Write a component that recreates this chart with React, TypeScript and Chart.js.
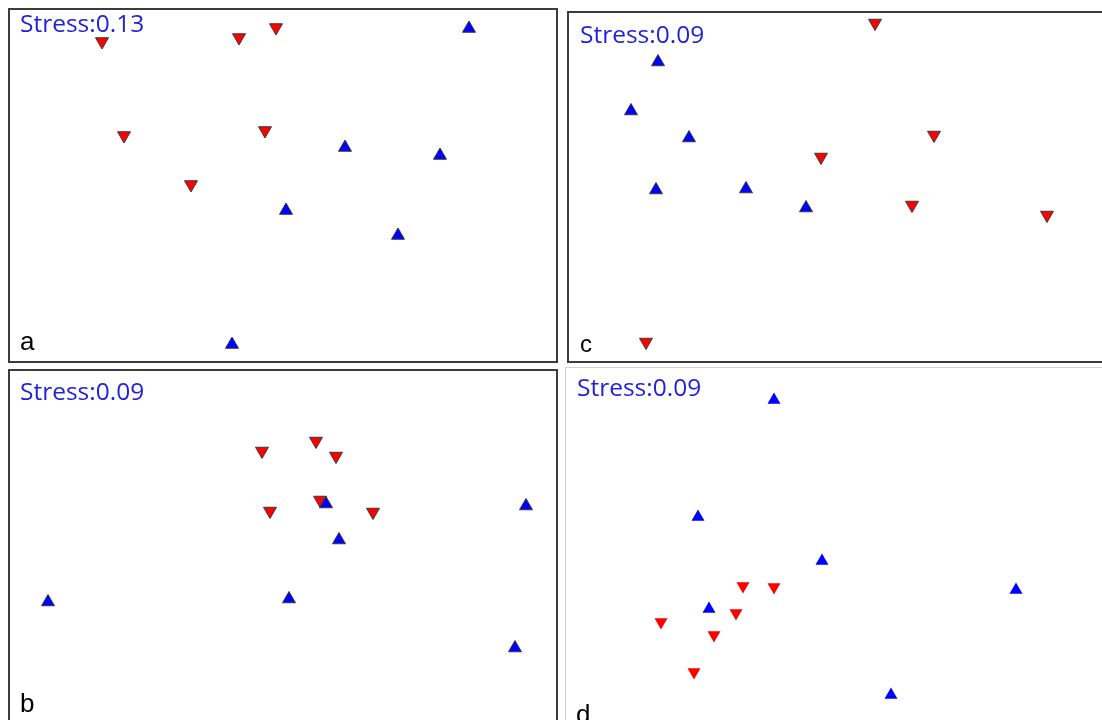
import React, { useEffect, useRef } from "react";
import { Chart, registerables } from "chart.js";

Chart.register(...registerables);

// NMDS ordination scores (NMDS1, NMDS2) per panel; two groups per panel.
const panelLetters = ["a", "b", "c", "d"];
const stressValues = [0.13, 0.09, 0.09, 0.09];

const aUp: [number, number][] = [
  [1.86, 1.57], [0.62, 0.38], [1.57, 0.3], [0.03, -0.25], [1.15, -0.5], [-0.51, -1.59],
];
const aDown: [number, number][] = [
  [-1.81, 1.44], [-0.44, 1.48], [-0.07, 1.58], [-1.59, 0.5], [-0.18, 0.55], [-0.92, 0.01],
];

const bUp: [number, number][] = [
  [0.43, 0.43], [2.43, 0.41], [0.56, 0.07], [-2.35, -0.55], [0.06, -0.52], [2.32, -1.01],
];
const bDown: [number, number][] = [
  [-0.21, 0.96], [0.33, 1.06], [0.53, 0.91], [-0.13, 0.36], [0.37, 0.47], [0.9, 0.35],
];

const cUp: [number, number][] = [
  [-1.81, 1.25], [-2.08, 0.76], [-1.5, 0.49], [-1.83, -0.03], [-0.93, -0.02], [-0.33, -0.21],
];
const cDown: [number, number][] = [
  [0.36, 1.64], [0.95, 0.52], [-0.18, 0.3], [0.73, -0.18], [2.08, -0.28], [-1.93, -1.55],
];

const dUp: [number, number][] = [
  [-0.64, 1.44], [-1.4, 0.27], [-0.16, -0.17], [1.78, -0.46], [-1.29, -0.65], [0.53, -1.51],
];
const dDown: [number, number][] = [
  [-0.95, -0.42], [-0.64, -0.43], [-1.02, -0.69], [-1.77, -0.78], [-1.24, -0.91], [-1.44, -1.28],
];

type PanelSpec = {
  letter: string;
  stress: number;
  up: [number, number][];
  down: [number, number][];
  box: { left: number; top: number; width: number; height: number; border: string };
  xHalf: number;
  yHalf: number;
  outlined: boolean;
  stressPos: [number, number];
  letterPos: [number, number];
  letterSize: number;
};

const panels: PanelSpec[] = [
  {
    letter: panelLetters[0], stress: stressValues[0], up: aUp, down: aDown,
    box: { left: 8, top: 8, width: 546, height: 351, border: "2px solid #3c3c3c" },
    xHalf: 2.73, yHalf: 1.755, outlined: true,
    stressPos: [10, 22], letterPos: [10, 340], letterSize: 26,
  },
  {
    letter: panelLetters[2], stress: stressValues[2], up: cUp, down: cDown,
    box: { left: 567, top: 11, width: 540, height: 348, border: "2px solid #3c3c3c" },
    xHalf: 2.7, yHalf: 1.74, outlined: true,
    stressPos: [11, 30], letterPos: [11, 339], letterSize: 24,
  },
  {
    letter: panelLetters[1], stress: stressValues[1], up: bUp, down: bDown,
    box: { left: 8, top: 369, width: 546, height: 352, border: "2px solid #3c3c3c" },
    xHalf: 2.73, yHalf: 1.76, outlined: true,
    stressPos: [10, 29], letterPos: [10, 341], letterSize: 26,
  },
  {
    letter: panelLetters[3], stress: stressValues[3], up: dUp, down: dDown,
    box: { left: 565, top: 367, width: 544, height: 352, border: "1px solid #d2d2d2" },
    xHalf: 2.72, yHalf: 1.76, outlined: false,
    stressPos: [11, 28], letterPos: [10, 355], letterSize: 26,
  },
];

const toPoints = (arr: [number, number][]) => arr.map(([x, y]) => ({ x, y }));

function Panel({ spec }: { spec: PanelSpec }) {
  const ref = useRef<HTMLCanvasElement | null>(null);

  useEffect(() => {
    if (!ref.current) return;
    const labels = {
      id: "panelLabels",
      afterDraw(chart: Chart) {
        const ctx = chart.ctx;
        ctx.save();
        ctx.textBaseline = "alphabetic";
        ctx.textAlign = "left";
        ctx.fillStyle = "#2222dc";
        ctx.font = '24.5px "Open Sans"';
        ctx.fillText("Stress:" + spec.stress.toFixed(2), spec.stressPos[0], spec.stressPos[1]);
        ctx.fillStyle = "#000000";
        ctx.font = `${spec.letterSize}px "Liberation Sans", Arial, sans-serif`;
        ctx.fillText(spec.letter, spec.letterPos[0], spec.letterPos[1]);
        ctx.restore();
      },
    };
    const edge = spec.outlined ? "#3a3a3a" : undefined;
    const chart = new Chart(ref.current, {
      type: "scatter",
      data: {
        datasets: [
          {
            label: "up",
            data: toPoints(spec.up),
            pointStyle: "triangle",
            rotation: 0,
            pointRadius: 7.5,
            backgroundColor: "#0000ff",
            borderColor: edge ?? "#0000ff",
            borderWidth: spec.outlined ? 1 : 0,
            clip: false,
          },
          {
            label: "down",
            data: toPoints(spec.down),
            pointStyle: "triangle",
            rotation: 180,
            pointRadius: 7.5,
            backgroundColor: "#ff0000",
            borderColor: edge ?? "#ff0000",
            borderWidth: spec.outlined ? 1 : 0,
            clip: false,
          },
        ],
      },
      options: {
        animation: false,
        responsive: false,
        maintainAspectRatio: false,
        devicePixelRatio: 1,
        events: [],
        layout: { padding: 0, autoPadding: false },
        plugins: { legend: { display: false }, tooltip: { enabled: false } },
        scales: {
          x: { type: "linear", display: false, min: -spec.xHalf, max: spec.xHalf },
          y: { type: "linear", display: false, min: -spec.yHalf, max: spec.yHalf },
        },
      },
      plugins: [labels],
    });
    return () => chart.destroy();
  }, [spec]);

  const b = spec.box;
  return (
    <div
      style={{
        position: "absolute",
        left: b.left,
        top: b.top,
        width: b.width,
        height: b.height,
        border: b.border,
        background: "#ffffff",
      }}
    >
      <canvas ref={ref} width={b.width} height={b.height} style={{ display: "block" }} />
    </div>
  );
}

export default function App() {
  return (
    <div
      style={{
        position: "fixed",
        left: 0,
        top: 0,
        width: 1102,
        height: 720,
        overflow: "hidden",
        background: "#ffffff",
      }}
    >
      {panels.map((p) => (
        <Panel key={p.letter} spec={p} />
      ))}
    </div>
  );
}
